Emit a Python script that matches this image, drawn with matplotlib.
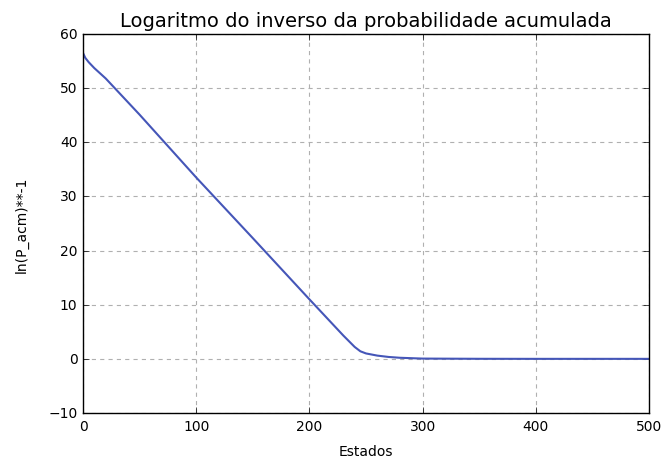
import matplotlib
matplotlib.use("Agg")
import matplotlib.pyplot as plt

# estados amostrados e ln(P_acm)**-1 correspondente
estados = [0, 2, 5, 10, 20, 50, 100, 150, 200, 230, 240, 245, 250, 260, 270, 280, 300, 350, 400, 500]
ln_inv = [56.5, 55.6, 54.8, 53.7, 51.8, 45.1, 33.5, 22.3, 11.0, 4.3, 2.2, 1.4, 1.0, 0.6, 0.35, 0.2, 0.05, 0.01, 0.0, 0.0]

plt.style.use("classic")
plt.rcParams["font.size"] = 10

fig = plt.figure(figsize=(6.63, 4.64), dpi=100)
ax = fig.add_axes([83 / 663, 50 / 464, 566 / 663, 379 / 464])
ax.set_axisbelow(True)
ax.plot(estados, ln_inv, color="#4556b8", linewidth=1.5)
ax.set_xlim(0, 500)
ax.set_ylim(-10, 60)
ax.grid(True, color="#b0b0b0", linestyle=(0, (3, 3)), linewidth=0.8)
for s in ax.spines.values():
    s.set_zorder(3)
ax.set_title("Logaritmo do inverso da probabilidade acumulada", fontsize=14, pad=6)
ax.set_xlabel("Estados", labelpad=8)
ax.set_ylabel("ln(P_acm)**-1", labelpad=14)

fig.savefig("out.png", dpi=100, facecolor="white")
